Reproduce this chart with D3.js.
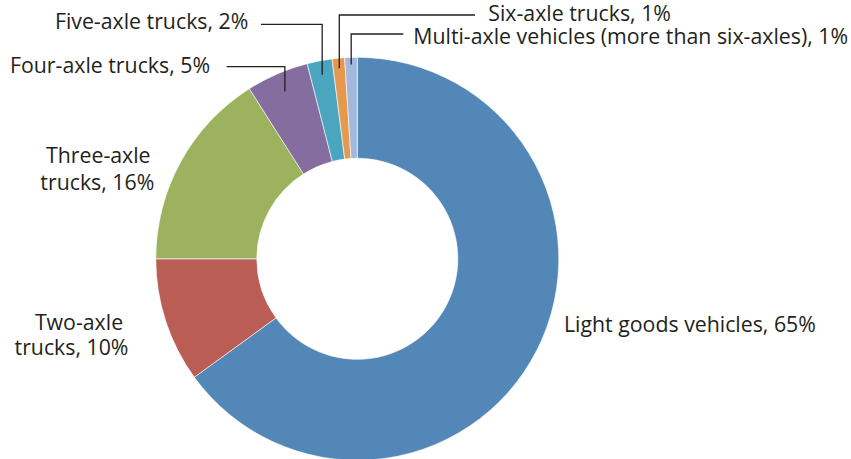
<!DOCTYPE html>
<html><head><meta charset="utf-8">
<script src="https://cdn.jsdelivr.net/npm/d3@7"></script>
<style>html,body{margin:0;padding:0;background:#fff;}svg{display:block;}</style>
</head><body>
<svg id="c" width="851" height="459"></svg>
<script>
const categories = ["Light goods vehicles","Two-axle trucks","Three-axle trucks","Four-axle trucks","Five-axle trucks","Six-axle trucks","Multi-axle vehicles (more than six-axles)"];
const values = [65, 10, 16, 5, 2, 1, 1];
const colors = ["#5387B7","#BA5E55","#9CB25F","#866DA0","#4AA6BE","#E4994F","#A3B8DA"];
const labelLines = [
  ["Light goods vehicles, 65%"],
  ["Two-axle","trucks, 10%"],
  ["Three-axle","trucks, 16%"],
  ["Four-axle trucks, 5%"],
  ["Five-axle trucks, 2%"],
  ["Six-axle trucks, 1%"],
  ["Multi-axle vehicles (more than six-axles), 1%"]
];

const W = 851, H = 459;
const cx = 357.3, cy = 258.8, rOuter = 201.5, rInner = 100.5;
const fontFamily = "'Open Sans', 'Noto Sans', sans-serif";
const fontSize = 21.3;
const textColor = "#231F20";

const svg = d3.select("#c");
const g = svg.append("g").attr("transform", `translate(${cx},${cy})`);
const data = categories.map((c,i)=>({name:c, value:values[i], color:colors[i], lines:labelLines[i]}));
const pie = d3.pie().sort(null).value(d=>d.value);
const arc = d3.arc().innerRadius(rInner).outerRadius(rOuter);
const arcs = pie(data);

g.selectAll("path.slice").data(arcs).enter().append("path")
  .attr("class","slice")
  .attr("d", arc)
  .attr("fill", d=>d.data.color)
  .attr("stroke","#fff").attr("stroke-width",0.6);

// label layout (absolute page positions) — layout only
const layout = [
  {anchor:"start", pos:[[564,332]]},
  {anchor:"middle", pos:[[79,330],[71.5,355]]},
  {anchor:"middle", pos:[[98.3,163.3],[97.3,190]]},
  {anchor:"end", pos:[[210,73.3]], leader:{hx:226.7, hy:66.7, ry:0.905}},
  {anchor:"end", pos:[[248.3,29]], leader:{hx:261, hy:24.3, ry:0.93}},
  {anchor:"start", pos:[[488.3,21]], leader:{hx:475, hy:15, ry:0.95}},
  {anchor:"start", pos:[[413.3,43.5]], leader:{hx:403.3, hy:34, ry:0.965}}
];

const labels = svg.append("g");
arcs.forEach((a,i)=>{
  const L = layout[i];
  a.data.lines.forEach((t,j)=>{
    labels.append("text")
      .attr("x", L.pos[j][0]).attr("y", L.pos[j][1])
      .attr("text-anchor", L.anchor)
      .attr("font-family", fontFamily).attr("font-size", fontSize)
      .attr("fill", textColor)
      .text(t);
  });
  if (L.leader) {
    const mid = (a.startAngle + a.endAngle)/2;
    const r = rOuter * L.leader.ry;
    const px = cx + r*Math.sin(mid), py = cy - r*Math.cos(mid);
    labels.append("path")
      .attr("d", `M${L.leader.hx},${L.leader.hy}H${px}V${py}`)
      .attr("fill","none").attr("stroke", textColor).attr("stroke-width",1.3);
  }
});
</script>
</body></html>
